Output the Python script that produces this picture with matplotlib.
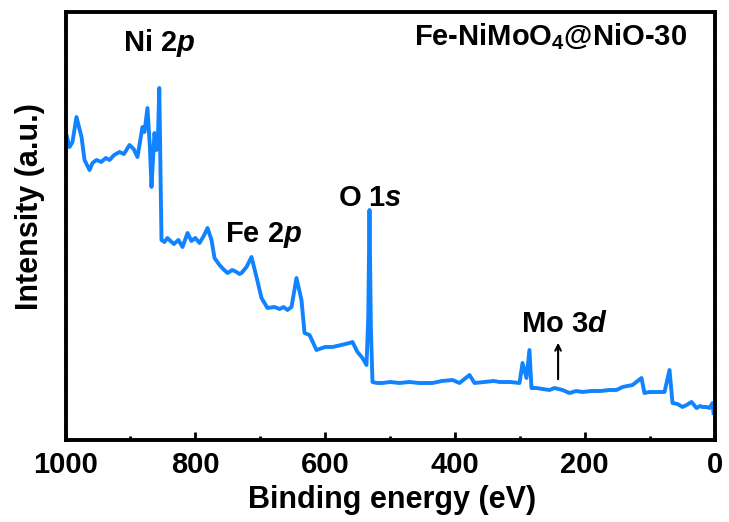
import numpy as np
import matplotlib
matplotlib.use('Agg')
import matplotlib.pyplot as plt
from matplotlib.ticker import MultipleLocator, NullFormatter

# survey spectrum (binding energy in eV, intensity a.u.)
energy = [1000, 998.5, 993.8, 989.2, 983.1, 975.3, 970.7, 963.0, 958.4, 952.2,
          945, 938, 932.2, 925, 916.8, 910, 901.4, 895, 889.1, 881.4,
          878.3, 873.7, 870, 867.5, 862.9, 859.8, 857.5, 855.5, 853.5, 852.1,
          847.5, 843, 839.8, 833, 826, 819.7, 812.0, 806, 800, 793.5,
          787, 781.2, 775.0, 770.4, 766, 762.7, 757, 750.4, 743, 736.5,
          732, 728.8, 721.1, 713.4, 705.7, 698.0, 688.8, 678.0, 670, 664,
          658.0, 651.8, 644.1, 636.4, 631.7, 624.0, 613.3, 600, 588.6, 575,
          562.4, 557.8, 550.1, 542.4, 536.2, 533.5, 531.6, 529.5, 527.0, 520,
          511.6, 500, 485.4, 470, 455, 434.5, 420, 403.7, 392.9, 377.5,
          369.8, 355, 340, 331.3, 315, 300.5, 295.8, 289.7, 285.1, 282.0,
          274.3, 265, 254.2, 246.5, 240, 234.2, 223.4, 213, 203.4, 190,
          175, 162, 151.0, 141.8, 126.3, 112.5, 107.9, 100.2, 90, 77.0,
          69.3, 64.7, 57, 49.3, 43, 35.4, 27.7, 22, 18.5, 12,
          7.7, 3.1, 1.5]
intensity = [299, 302, 290, 295, 320, 300, 277, 267, 274, 277,
             275, 279, 277, 282, 285, 283, 292, 288, 280, 310,
             305, 329, 290, 250, 304, 287, 300, 349, 260, 197,
             195, 199, 197, 193, 197, 190, 204, 196, 199, 194,
             201, 209, 197, 179, 175, 172, 168, 164, 167, 165,
             163, 164, 170, 180, 160, 139, 129, 130, 128, 130,
             127, 130, 159, 137, 104, 102, 87, 90, 90, 92,
             94, 95, 85, 79, 72, 120, 227, 110, 55, 54,
             54, 55, 54, 55, 54, 54, 56, 57, 54, 62,
             54, 55, 56, 55, 55, 54, 74, 59, 87, 49,
             49, 48, 47, 49, 48, 47, 44, 46, 45, 46,
             46, 47, 47, 50, 52, 59, 44, 45, 45, 45,
             67, 34, 33, 30, 32, 35, 29, 31, 30, 30,
             29, 34, 24]

plt.rcParams['font.family'] = ['Liberation Sans', 'DejaVu Sans']
plt.rcParams['font.weight'] = 'bold'
plt.rcParams['mathtext.fontset'] = 'custom'
plt.rcParams['mathtext.rm'] = 'Liberation Sans:bold'
plt.rcParams['mathtext.it'] = 'Liberation Sans:bold:italic'
plt.rcParams['mathtext.bf'] = 'Liberation Sans:bold'

fig = plt.figure(figsize=(7.29, 5.22), dpi=100)
ax = fig.add_axes([65.5 / 729, 1 - 440 / 522, 649 / 729, 428.5 / 522])

ax.plot(energy, intensity, color='#1283FF', linewidth=2.8, solid_joinstyle='round')

ax.set_xlim(1000, 0)
ax.set_ylim(-3, 425.5)

for s in ax.spines.values():
    s.set_linewidth(2.8)

ax.xaxis.set_major_locator(MultipleLocator(200))
ax.xaxis.set_minor_locator(MultipleLocator(100))
ax.tick_params(axis='x', which='major', direction='in', length=6, width=2, pad=8,
               labelsize=21)
ax.tick_params(axis='x', which='minor', direction='in', length=3, width=2)
ax.yaxis.set_major_locator(MultipleLocator(12))
ax.yaxis.set_major_formatter(NullFormatter())
ax.tick_params(axis='y', which='major', direction='out', length=1.5, width=1.2,
               left=True, right=True)

# peak labels
ax.text(855, 386, 'Ni 2$\\mathit{p}$', fontsize=21, ha='center', va='baseline')
ax.text(695, 195, 'Fe 2$\\mathit{p}$', fontsize=21, ha='center', va='baseline')
ax.text(531, 231, 'O 1$\\mathit{s}$', fontsize=21, ha='center', va='baseline')
ax.text(231, 105, 'Mo 3$\\mathit{d}$', fontsize=21, ha='center', va='baseline')
ax.annotate('', xy=(241, 97), xytext=(241, 55),
            arrowprops=dict(arrowstyle='->', lw=1.5, color='black'))
ax.text(253, 392, 'Fe-NiMoO$_4$@NiO-30', fontsize=21, ha='center', va='baseline')

fig.text(392 / 729, 1 - 500 / 522, 'Binding energy (eV)', fontsize=22,
         ha='center', va='center')
fig.text(30 / 729, 1 - 207 / 522, 'Intensity (a.u.)', fontsize=22,
         ha='center', va='center', rotation=90)

plt.savefig('out.png', dpi=100)
